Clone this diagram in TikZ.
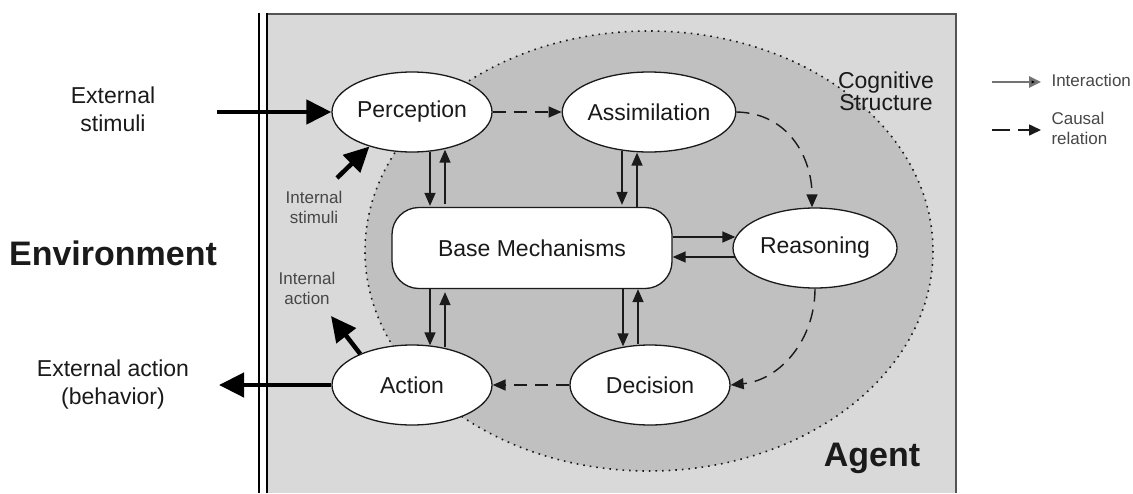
\documentclass[tikz,border=0pt]{standalone}
\usepackage{fontspec}
\setmainfont{Liberation Sans}
\usetikzlibrary{shapes.geometric,arrows.meta,calc}
\definecolor{boxgray}{HTML}{D9D9D9}
\definecolor{cogray}{HTML}{C0C0C0}
\definecolor{ink}{HTML}{1A1A1A}
\definecolor{rim}{HTML}{555555}

\begin{document}
\begin{tikzpicture}[x=1pt,y=-1pt,
  every node/.style={font=\fontsize{23}{26}\selectfont, text=ink},
  stage/.style={ellipse, draw=ink, line width=1.3pt, fill=white,
    minimum width=160pt, minimum height=80pt, inner sep=0pt},
  basebox/.style={rectangle, rounded corners=27pt, draw=ink, line width=1.3pt,
    fill=white, minimum width=280pt, minimum height=81pt, inner sep=0pt},
  link/.style={draw=ink, line width=1.4pt, -{Triangle[length=13pt,width=11pt]}},
  cause/.style={link, dash pattern=on 13pt off 8pt},
  bold arrow/.style={draw=black, line width=4.5pt, -{Triangle[length=25pt,width=24pt]}},
  smalltext/.style={font=\fontsize{17}{20}\selectfont, text=black!72, align=center},
  sidetext/.style={align=center, font=\fontsize{23}{28}\selectfont},
  bigtext/.style={font=\fontsize{34}{38}\selectfont\bfseries, text=ink},
  legendtext/.style={font=\fontsize{17}{20}\selectfont, text=black!72, align=left, anchor=west}
]
\useasboundingbox (0,0) rectangle (1133,493);

% agent frame
\fill[boxgray] (267,15) rectangle (956,493);
\draw[rim, line width=2.2pt] (267,14) -- (956,14) -- (956,493);
\draw[black, line width=2pt] (259,13) -- (259,493);
\draw[black, line width=2pt] (267,13) -- (267,493);

% cognitive structure
\draw[fill=cogray, draw=ink, line width=1.6pt, dash pattern=on 1.6pt off 5pt]
  (649,251) ellipse [x radius=284, y radius=220];

% stages
\node[stage] (P) at (412,112) {Perception};
\node[stage] (A) at (649,112) {Assimilation};
\node[stage, minimum width=164pt] (R) at (815,248) {Reasoning};
\node[stage] (D) at (650,385) {Decision};
\node[stage] (Ac) at (412,385) {Action};
\node[basebox] (B) at (532,248) {Base Mechanisms};

% labels
\node[sidetext] (es) at (113,109) {External\\stimuli};
\node[sidetext] (ea) at (113,385) {External action\\(behavior)};
\node[bigtext] (env) at (113,253) {Environment};
\node[bigtext] (ag) at (872,458) {Agent};
\node[align=center, font=\fontsize{23}{19}\selectfont] (cs) at (886,91) {Cognitive\\Structure};
\node[smalltext] (is) at (314,207) {Internal\\stimuli};
\node[smalltext] (ia) at (307,288) {Internal\\action};

% external and internal flows
\coordinate (esin) at (217,112);
\coordinate (eaout) at (219,385);
\coordinate (istail) at (337,178);
\coordinate (iatip) at (331,316);
\draw[bold arrow] (esin) -- (P.west);
\draw[bold arrow] (Ac.west) -- (eaout);
\draw[bold arrow] (istail) -- (P.-141);
\draw[bold arrow] (Ac.149) -- (iatip);

% interactions with base mechanisms
\draw[link] ([shift={(18,-1)}]P.south) -- ([shift={(18,-1)}]P.south |- B.north);
\draw[link] ([shift={(33,-3)}]P.south |- B.north) -- ([shift={(33,-3)}]P.south);
\draw[link] ([shift={(-27,-2)}]A.south) -- ([shift={(-27,-2)}]A.south |- B.north);
\draw[link] ([shift={(-12,0)}]A.south |- B.north) -- ([shift={(-12,0)}]A.south);
\draw[link] ([shift={(18,0)}]Ac.north |- B.south) -- ([shift={(18,1)}]Ac.north);
\draw[link] ([shift={(33,3)}]Ac.north) -- ([shift={(33,3)}]Ac.north |- B.south);
\draw[link] ([shift={(-27,0)}]D.north |- B.south) -- ([shift={(-27,2)}]D.north);
\draw[link] ([shift={(-12,0)}]D.north) -- ([shift={(-12,0)}]D.north |- B.south);
\draw[link] ([shift={(0,-11)}]B.east) -- ([shift={(3,-11)}]R.west);
\draw[link] ([shift={(3,9)}]R.west) -- ([shift={(0,9)}]B.east);

% causal chain
\draw[cause] (P.east) -- (A.west);
\draw[cause] (A.east) .. controls (790,113) and (812,160) .. ([shift={(-3,0)}]R.north);
\draw[cause] (R.south) .. controls (815,340) and (780,380) .. (D.east);
\draw[cause] (D.west) -- (Ac.east);

% legend
\coordinate (l1a) at (992,82);
\coordinate (l1b) at (1041,82);
\coordinate (l2a) at (992,130);
\coordinate (l2b) at (1041,130);
\draw[link, draw=black!55, line width=2.5pt, -{Triangle[length=12pt,width=11pt,fill=black]}] (l1a) -- (l1b);
\draw[link, line width=1.6pt, dash pattern=on 18pt off 8pt, -{Triangle[length=12pt,width=11pt]}] (l2a) -- (l2b);
\node[legendtext] (lt1) at (1048,80) {Interaction};
\node[legendtext] (lt2) at (1048,128) {Causal\\relation};
\end{tikzpicture}
\end{document}
